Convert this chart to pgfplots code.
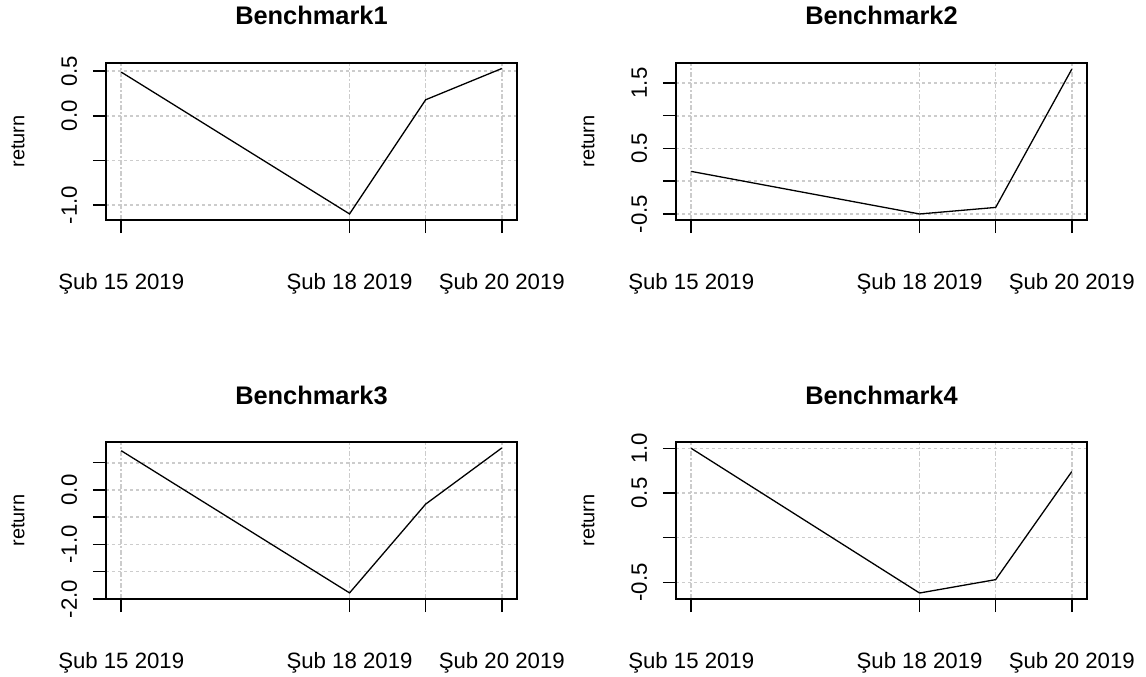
\documentclass[border=0pt]{standalone}
\usepackage{fontspec}
\setmainfont{Liberation Sans}
\usepackage{pgfplots}
\pgfplotsset{compat=1.18}

\definecolor{gridgray}{HTML}{CCCCCC}

\pgfplotsset{
  rpanel/.style={
    scale only axis,
    width=205.5pt, height=78.5pt,
    xmin=14.8, xmax=20.2,
    xtick={15,18,19,20},
    xticklabels={Şub 15 2019, Şub 18 2019, , Şub 20 2019},
    xtick pos=lower, ytick pos=left,
    tick align=outside,
    major tick length=6.6pt,
    axis line style={black, line width=0.75pt},
    every tick/.style={black, line width=0.75pt},
    grid=major,
    x grid style={gridgray, line width=0.8pt, dash pattern=on 2.5pt off 1.2pt on 0.6pt off 1.2pt},
    y grid style={gridgray, line width=0.8pt, dash pattern=on 1.5pt off 1.5pt},
    /pgf/number format/assume math mode=true,
    ticklabel style={font=\fontsize{11.1}{13}\selectfont},
    xticklabel style={anchor=base, inner sep=0pt, yshift=-28pt},
    yticklabel style={rotate=90, anchor=base, inner sep=0pt},
    yticklabel shift=8pt,
    every axis title/.style={at={(0.5,1)}, anchor=base, yshift=19pt,
      font=\fontsize{12.7}{14}\selectfont\bfseries},
    ylabel={return},
    every axis y label/.style={at={(axis description cs:-0.2141,0.5)},
      rotate=90, anchor=center, font=\fontsize{10}{12}\selectfont},
  },
  rline/.style={black, line width=0.65pt, mark=none},
}

\begin{document}
\begin{tikzpicture}
\useasboundingbox (0,0) rectangle (573pt,338pt);

% Benchmark1
\begin{axis}[rpanel, at={(53pt,228pt)}, anchor=south west,
  title={Benchmark1},
  ymin=-1.168, ymax=0.592,
  ytick={-1,-0.5,0,0.5}, yticklabels={-1.0,,0.0,0.5}]
\addplot[rline] coordinates {(15,0.49) (18,-1.10) (19,0.18) (20,0.53)};
\end{axis}

% Benchmark2
\begin{axis}[rpanel, at={(338pt,228pt)}, anchor=south west,
  title={Benchmark2},
  ymin=-0.592, ymax=1.805,
  ytick={-0.5,0,0.5,1,1.5}, yticklabels={-0.5,,0.5,,1.5}]
\addplot[rline] coordinates {(15,0.15) (18,-0.50) (19,-0.40) (20,1.71)};
\end{axis}

% Benchmark3
\begin{axis}[rpanel, at={(53pt,38.5pt)}, anchor=south west,
  title={Benchmark3},
  ymin=-2.002, ymax=0.880,
  ytick={-2,-1.5,-1,-0.5,0,0.5}, yticklabels={-2.0,,-1.0,,0.0,}]
\addplot[rline] coordinates {(15,0.72) (18,-1.89) (19,-0.26) (20,0.77)};
\end{axis}

% Benchmark4
\begin{axis}[rpanel, at={(338pt,38.5pt)}, anchor=south west,
  title={Benchmark4},
  ymin=-0.687, ymax=1.071,
  ytick={-0.5,0,0.5,1}, yticklabels={-0.5,,0.5,1.0}]
\addplot[rline] coordinates {(15,1.00) (18,-0.62) (19,-0.47) (20,0.74)};
\end{axis}
\end{tikzpicture}
\end{document}
